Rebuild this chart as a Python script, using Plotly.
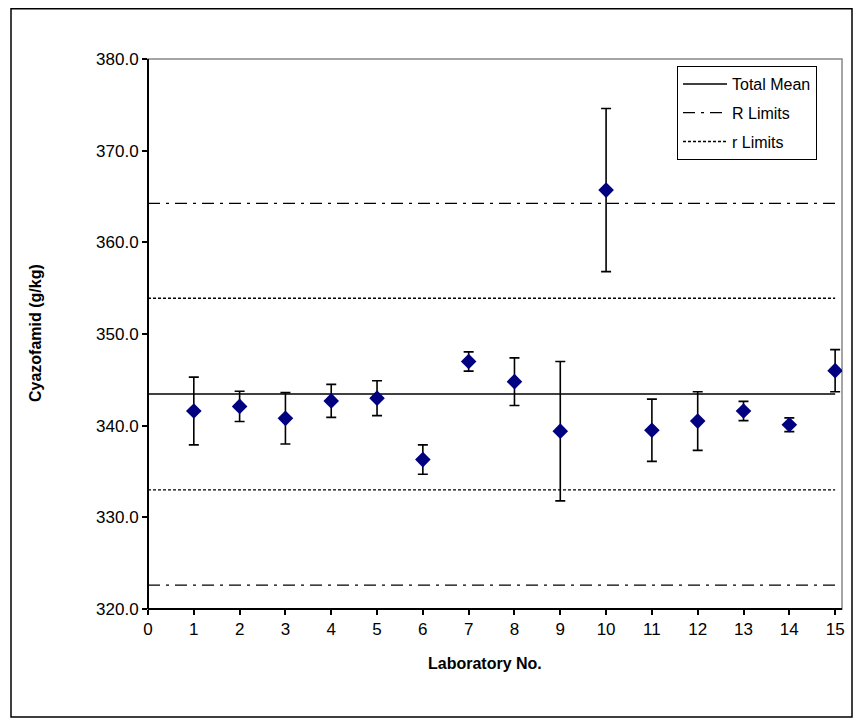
import plotly.graph_objects as go

# ---- data ----
labs = list(range(1, 16))
lab_means = [341.6, 342.1, 340.8, 342.7, 343.0, 336.3, 347.0, 344.8, 339.4, 365.7,
             339.5, 340.5, 341.6, 340.1, 346.0]
lab_errors = [3.7, 1.65, 2.8, 1.8, 1.9, 1.6, 1.05, 2.6, 7.6, 8.9,
              3.4, 3.2, 1.05, 0.75, 2.3]
total_mean = 343.45
R_limits = [322.6, 364.25]
r_limits = [333.0, 353.9]
line_x = [0, 15]
x_ticks = list(range(0, 16))
y_ticks = [320, 330, 340, 350, 360, 370, 380]

FONT = "Liberation Sans, Arial, sans-serif"
DASHDOT = "12px,6px,3px,6px"
DOTTED = "3px,2px"

fig = go.Figure()

# Total mean
fig.add_trace(go.Scatter(x=line_x, y=[total_mean, total_mean], mode="lines",
                         line=dict(color="black", width=1.5), name="Total Mean",
                         legendgroup="M"))
# R limits
fig.add_trace(go.Scatter(x=line_x, y=[R_limits[1], R_limits[1]], mode="lines",
                         line=dict(color="black", width=1.3, dash=DASHDOT),
                         name="R Limits", legendgroup="R"))
fig.add_trace(go.Scatter(x=line_x, y=[R_limits[0], R_limits[0]], mode="lines",
                         line=dict(color="black", width=1.3, dash=DASHDOT),
                         name="R Limits", legendgroup="R", showlegend=False))
# r limits
fig.add_trace(go.Scatter(x=line_x, y=[r_limits[1], r_limits[1]], mode="lines",
                         line=dict(color="black", width=1.3, dash=DOTTED),
                         name="r Limits", legendgroup="r"))
fig.add_trace(go.Scatter(x=line_x, y=[r_limits[0], r_limits[0]], mode="lines",
                         line=dict(color="black", width=1.3, dash=DOTTED),
                         name="r Limits", legendgroup="r", showlegend=False))

# Lab data
fig.add_trace(go.Scatter(
    x=labs, y=lab_means, mode="markers", showlegend=False, name="Labs",
    marker=dict(symbol="diamond", size=12, color="#000080"),
    error_y=dict(type="data", array=lab_errors, visible=True,
                 color="black", thickness=1.6, width=5),
))

# figure pixel geometry (page is offset by 8px body margin)
W, H = 862, 726
L, R, T, B = 140, 28, 51, 125
pw, ph = W - L - R, H - T - B

def px(xp):
    return (xp - L) / pw

def py(yp):
    return (H - B - yp) / ph

shapes = [
    # chart area border
    dict(type="rect", xref="paper", yref="paper",
         x0=px(3), x1=px(844), y0=py(709), y1=py(0.8),
         line=dict(color="black", width=1.5), layer="below"),
    # plot area border (gray)
    dict(type="rect", xref="paper", yref="paper", x0=0, x1=1, y0=0, y1=1,
         line=dict(color="#888888", width=1.5), layer="below"),
    # axes black
    dict(type="line", xref="paper", yref="paper", x0=0, x1=0, y0=0, y1=1,
         line=dict(color="black", width=2)),
    dict(type="line", xref="paper", yref="paper", x0=0, x1=1, y0=0, y1=0,
         line=dict(color="black", width=2)),
]

annotations = [
    dict(text="<b>Cyazofamid (g/kg)</b>", xref="paper", yref="paper",
         x=px(27), y=py(325), xanchor="center", yanchor="middle",
         textangle=-90, showarrow=False, font=dict(size=16, family=FONT)),
    dict(text="<b>Laboratory No.</b>", xref="paper", yref="paper",
         x=px(477), y=py(655), xanchor="center", yanchor="middle",
         showarrow=False, font=dict(size=16, family=FONT)),
]

fig.update_layout(
    width=W, height=H,
    margin=dict(l=L, r=R, t=T, b=B),
    paper_bgcolor="white", plot_bgcolor="white",
    font=dict(family=FONT, color="black"),
    shapes=shapes,
    annotations=annotations,
    showlegend=True,
    legend=dict(x=px(669), y=py(58), xanchor="left", yanchor="top",
                bordercolor="black", borderwidth=1, bgcolor="white",
                font=dict(size=16, family=FONT), tracegroupgap=5,
                itemwidth=44, entrywidth=100, entrywidthmode="pixels"),
    xaxis=dict(range=[0, 15.15], tickmode="array", tickvals=x_ticks,
               ticktext=[str(v) for v in x_ticks],
               showgrid=False, zeroline=False, showline=False,
               ticks="outside", ticklen=5, tickwidth=1.5, tickcolor="black",
               tickfont=dict(size=17, family=FONT)),
    yaxis=dict(range=[320, 380], tickmode="array", tickvals=y_ticks,
               ticktext=[f"{v:.1f}" for v in y_ticks],
               showgrid=False, zeroline=False, showline=False,
               ticks="outside", ticklen=5, tickwidth=1.5, tickcolor="black",
               tickfont=dict(size=17, family=FONT)),
)

fig.write_html("out.html")
